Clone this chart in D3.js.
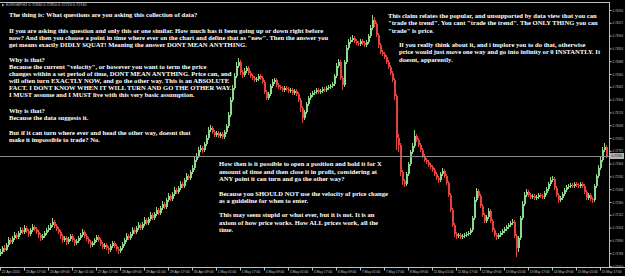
<!DOCTYPE html>
<html><head><meta charset="utf-8">
<script src="https://cdn.jsdelivr.net/npm/d3@7/dist/d3.min.js"></script>
<style>html,body{margin:0;padding:0;background:#000;overflow:hidden}</style>
</head><body>
<svg id="c" width="625" height="276"></svg>
<script>
const symbol = "EURGBP,H1";
const firstOpen = .7176;
const closes = [
.7178,.7182,.7180,.7185,.7190,.7188,.7192,.7195,.7193,.7197,
.7200,.7198,.7202,.7199,.7196,.7200,.7203,.7201,.7198,.7195,
.7192,.7194,.7197,.7200,.7202,.7205,.7208,.7204,.7201,.7198,
.7194,.7190,.7192,.7188,.7191,.7194,.7190,.7187,.7189,.7192,
.7195,.7198,.7194,.7191,.7188,.7185,.7187,.7190,.7193,.7190,
.7186,.7183,.7185,.7182,.7180,.7184,.7187,.7184,.7181,.7179,
.7182,.7186,.7190,.7194,.7192,.7196,.7200,.7198,.7202,.7205,
.7202,.7206,.7210,.7207,.7211,.7215,.7212,.7216,.7220,.7217,
.7222,.7226,.7223,.7230,.7234,.7231,.7236,.7240,.7238,.7242,
.7246,.7244,.7250,.7254,.7252,.7258,.7262,.7270,.7274,.7280,
.7282,.7280,.7286,.7292,.7300,.7302,.7298,.7295,.7297,.7294,
.7296,.7293,.7298,.7304,.7315,.7330,.7342,.7354,.7364,.7368,
.7358,.7355,.7359,.7362,.7357,.7354,.7352,.7350,.7351,.7354,
.7352,.7348,.7338,.7332,.7336,.7344,.7348,.7350,.7345,.7343,
.7342,.7340,.7342,.7341,.7339,.7340,.7337,.7339,.7336,.7330,
.7322,.7312,.7318,.7326,.7332,.7335,.7337,.7338,.7340,.7338,
.7339,.7341,.7340,.7342,.7343,.7344,.7346,.7354,.7364,.7368,
.7352,.7345,.7368,.7382,.7388,.7390,.7392,.7389,.7387,.7386,
.7389,.7387,.7385,.7388,.7394,.7402,.7410,.7406,.7395,.7385,
.7378,.7376,.7373,.7368,.7363,.7357,.7350,.7334,.7292,.7285,
.7258,.7249,.7246,.7256,.7266,.7278,.7284,.7294,.7290,.7285,
.7280,.7274,.7270,.7268,.7265,.7263,.7260,.7256,.7252,.7250,
.7256,.7259,.7254,.7247,.7235,.7220,.7205,.7196,.7194,.7195,
.7193,.7194,.7195,.7196,.7197,.7200,.7212,.7230,.7239,.7234,
.7224,.7215,.7209,.7213,.7219,.7209,.7200,.7195,.7193,.7195,
.7197,.7199,.7201,.7203,.7205,.7207,.7208,.7194,.7182,.7192,
.7212,.7226,.7235,.7238,.7235,.7233,.7234,.7232,.7233,.7235,
.7234,.7233,.7237,.7241,.7246,.7250,.7251,.7242,.7235,.7230,
.7232,.7236,.7240,.7243,.7244,.7245,.7244,.7246,.7245,.7244,
.7246,.7244,.7238,.7232,.7235,.7231,.7230,.7244,.7254,.7262,
.7270,.7280,.7283,.7274];
const highs = [
.7181,.7184,.7185,.7187,.7193,.7192,.7194,.7198,.7197,.7199,
.7203,.7202,.7205,.7204,.7201,.7202,.7206,.7205,.7203,.7200,
.7197,.7196,.7199,.7202,.7205,.7207,.7212,.7210,.7206,.7203,
.7200,.7196,.7194,.7194,.7193,.7196,.7196,.7192,.7191,.7194,
.7197,.7201,.7200,.7196,.7193,.7190,.7189,.7192,.7195,.7195,
.7192,.7188,.7187,.7187,.7184,.7186,.7189,.7189,.7186,.7183,
.7184,.7188,.7192,.7197,.7196,.7198,.7203,.7202,.7204,.7208,
.7207,.7208,.7213,.7212,.7213,.7218,.7217,.7218,.7223,.7222,
.7224,.7229,.7228,.7232,.7237,.7236,.7238,.7243,.7242,.7244,
.7249,.7248,.7252,.7257,.7256,.7260,.7265,.7273,.7277,.7283,
.7285,.7284,.7288,.7295,.7303,.7305,.7304,.7300,.7299,.7299,
.7298,.7298,.7300,.7306,.7318,.7333,.7345,.7357,.7368,.7372,
.7370,.7360,.7362,.7364,.7364,.7359,.7356,.7354,.7353,.7356,
.7356,.7354,.7350,.7340,.7338,.7346,.7351,.7352,.7352,.7347,
.7345,.7344,.7344,.7344,.7343,.7342,.7342,.7341,.7341,.7338,
.7332,.7324,.7320,.7328,.7334,.7337,.7339,.7340,.7342,.7342,
.7341,.7343,.7343,.7344,.7345,.7346,.7348,.7356,.7367,.7371,
.7370,.7354,.7370,.7385,.7391,.7393,.7395,.7394,.7391,.7389,
.7391,.7391,.7389,.7390,.7396,.7405,.7415,.7413,.7408,.7397,
.7387,.7380,.7378,.7375,.7370,.7365,.7359,.7352,.7336,.7296,
.7287,.7260,.7251,.7258,.7268,.7280,.7287,.7300,.7296,.7292,
.7287,.7282,.7276,.7272,.7270,.7267,.7265,.7262,.7258,.7254,
.7258,.7262,.7261,.7256,.7249,.7237,.7222,.7207,.7198,.7197,
.7197,.7196,.7197,.7198,.7199,.7202,.7214,.7233,.7242,.7241,
.7236,.7226,.7217,.7215,.7222,.7221,.7211,.7202,.7197,.7197,
.7199,.7201,.7203,.7205,.7207,.7209,.7211,.7210,.7196,.7194,
.7214,.7229,.7238,.7241,.7240,.7237,.7236,.7236,.7235,.7237,
.7237,.7236,.7239,.7243,.7248,.7253,.7254,.7253,.7244,.7237,
.7234,.7238,.7242,.7245,.7246,.7247,.7247,.7248,.7248,.7247,
.7248,.7248,.7246,.7240,.7237,.7237,.7233,.7246,.7256,.7265,
.7273,.7283,.7287,.7285];
const lows = [
.7174,.7176,.7178,.7179,.7183,.7186,.7186,.7190,.7191,.7191,
.7195,.7196,.7196,.7197,.7193,.7194,.7198,.7199,.7196,.7192,
.7189,.7190,.7192,.7195,.7198,.7200,.7203,.7202,.7199,.7196,
.7191,.7187,.7188,.7185,.7186,.7189,.7188,.7184,.7185,.7187,
.7190,.7193,.7192,.7189,.7186,.7182,.7183,.7185,.7188,.7188,
.7184,.7181,.7181,.7180,.7176,.7178,.7182,.7182,.7179,.7176,
.7177,.7180,.7184,.7188,.7190,.7190,.7194,.7196,.7196,.7200,
.7200,.7200,.7204,.7205,.7205,.7209,.7210,.7210,.7214,.7215,
.7215,.7220,.7221,.7221,.7228,.7229,.7229,.7234,.7236,.7236,
.7240,.7242,.7242,.7248,.7250,.7250,.7256,.7260,.7268,.7272,
.7278,.7277,.7278,.7284,.7290,.7298,.7296,.7293,.7293,.7292,
.7292,.7291,.7291,.7296,.7302,.7313,.7328,.7340,.7352,.7362,
.7355,.7352,.7353,.7357,.7355,.7352,.7350,.7348,.7348,.7349,
.7350,.7346,.7336,.7330,.7330,.7334,.7342,.7346,.7343,.7341,
.7340,.7338,.7338,.7339,.7337,.7337,.7335,.7335,.7334,.7328,
.7318,.7307,.7310,.7316,.7324,.7330,.7333,.7335,.7336,.7336,
.7336,.7337,.7338,.7338,.7340,.7341,.7342,.7344,.7352,.7362,
.7350,.7340,.7343,.7366,.7380,.7386,.7388,.7387,.7385,.7384,
.7384,.7385,.7383,.7383,.7386,.7392,.7400,.7403,.7393,.7382,
.7376,.7374,.7371,.7366,.7361,.7355,.7348,.7330,.7280,.7278,
.7254,.7245,.7243,.7244,.7254,.7264,.7276,.7282,.7288,.7283,
.7278,.7272,.7268,.7266,.7263,.7261,.7258,.7254,.7250,.7247,
.7248,.7254,.7252,.7245,.7233,.7218,.7203,.7193,.7191,.7192,
.7191,.7191,.7192,.7193,.7194,.7195,.7198,.7210,.7228,.7232,
.7222,.7213,.7207,.7207,.7211,.7207,.7198,.7193,.7190,.7191,
.7193,.7195,.7197,.7199,.7201,.7203,.7205,.7192,.7173,.7178,
.7190,.7210,.7224,.7233,.7233,.7231,.7231,.7230,.7230,.7231,
.7232,.7231,.7231,.7235,.7239,.7244,.7248,.7240,.7233,.7227,
.7228,.7230,.7234,.7238,.7241,.7242,.7242,.7242,.7243,.7242,
.7242,.7242,.7236,.7230,.7230,.7229,.7227,.7228,.7242,.7252,
.7260,.7268,.7278,.7272];
const priceTicks = [.74200,.74072,.73944,.73816,.73688,.73560,.73432,.73304,.73176,.73048,
  .72920,.72792,.72664,.72536,.72408,.72280,.72152,.72024,.71896,.71768,.71640];
const dateLabels = ["22 Apr 2015","23 Apr 17:00","24 Apr 09:00","27 Apr 01:00","27 Apr 17:00","28 Apr 09:00",
  "29 Apr 01:00","29 Apr 17:00","30 Apr 09:00","1 May 01:00","1 May 17:00","4 May 09:00","5 May 01:00",
  "5 May 17:00","6 May 09:00","7 May 01:00","7 May 17:00","8 May 09:00","11 May 01:00","11 May 17:00",
  "12 May 09:00","13 May 01:00","13 May 17:00","14 May 09:00","15 May 01:00","15 May 17:00"];
const dateEvery = 12;

const noteLeft = [
"The thing is: What questions are you asking this collection of data?",
"",
"If you are asking this question and only this or one similar. How much has it been going up or down right before",
"now? And then you choose a point in time where ever on the chart and define that as \"new\". Then the answer you",
"get means exactly DIDLY SQUAT! Meaning the answer DONT MEAN ANYTHING.",
"",
"Why is that?",
"Because the current \"velocity\", or however you want to term the price",
"changes within a set period of time, DONT MEAN ANYTHING. Price can, and",
"will often turn EXACTLY NOW, and go the other way. This is an ABSOLUTE",
"FACT. I DONT KNOW WHEN IT WILL TURN AND GO THE OTHER WAY.",
"I MUST assume and I MUST live with this very basic assumption.",
"",
"Why is that?",
"Because the data suggests it.",
"",
"But if it can turn where ever and head the other way, doesnt that",
"make it impossible to trade? No."];
const noteMiddle = [
"How then is it possible to open a position and hold it for X",
"amount of time and then close it in profit, considering at",
"ANY point it can turn and go the other way?",
"",
"Because you SHOULD NOT use the velocity of price change",
"as a guideline for when to enter.",
"",
"This may seem stupid or what ever, but it is not. It is an",
"axiom of how price works. How ALL prices work, all the",
"time."];
const noteRightA = [
"This claim relates the popular, and unsupported by data view that you can",
"\"trade the trend\". You cant \"trade the trend\". The ONLY THING you can",
"\"trade\" is price."];
const noteRightB = [
"If you really think about it, and i implore you to do that, otherwise",
"price would just move one way and go into infinity or 0 INSTANTLY. It",
"doesnt, apparently."];

// ---------- drawing ----------
const svg = d3.select("#c");
const plotT = 2, plotB = 267, axisX = 609;
const n = closes.length;
const opens = closes.map((c, i) => i ? closes[i - 1] : firstOpen);
const x = d3.scaleBand().domain(d3.range(n)).range([0, n * 2]);
const y = d3.scaleLinear().domain([0.7163, 0.7428]).range([plotB, plotT]);
const bull = "#8ed88e", bear = "#e0443c", axisCol = "#c0c0c0";
const smallFont = "Liberation Sans, Arial, sans-serif";

svg.append("rect").attr("width", 625).attr("height", 276).attr("fill", "#000");

const g = svg.append("g").attr("shape-rendering", "crispEdges");
const cd = g.selectAll("g.c").data(d3.range(n)).join("g");
cd.append("line")
  .attr("x1", i => x(i) + 0.5).attr("x2", i => x(i) + 0.5)
  .attr("y1", i => y(highs[i])).attr("y2", i => y(lows[i]))
  .attr("stroke", i => closes[i] >= opens[i] ? bull : bear).attr("stroke-width", 1);
cd.append("rect")
  .attr("x", i => x(i)).attr("width", 1.6)
  .attr("y", i => y(Math.max(opens[i], closes[i])))
  .attr("height", i => Math.max(1, Math.abs(y(opens[i]) - y(closes[i]))))
  .attr("fill", i => closes[i] >= opens[i] ? bull : bear);

// current price line
const last = closes[n - 1];
const ly = Math.round(y(last)) + 0.5;
svg.append("line").attr("x1", 0).attr("x2", axisX).attr("y1", ly).attr("y2", ly)
  .attr("stroke", "#8a8a8a").attr("stroke-width", 1);

// frame
svg.append("line").attr("x1", 0).attr("x2", axisX).attr("y1", plotT + 0.5).attr("y2", plotT + 0.5).attr("stroke", axisCol);
svg.append("line").attr("x1", 0).attr("x2", 625).attr("y1", plotB + 0.5).attr("y2", plotB + 0.5).attr("stroke", axisCol);

// price axis
const ya = svg.append("g").attr("transform", `translate(${axisX + 0.5},0)`)
  .call(d3.axisRight(y).tickValues(priceTicks).tickFormat(d3.format(".5f")).tickSize(2).tickPadding(1));
ya.select(".domain").attr("stroke", axisCol).attr("d", `M0,${plotT}V${plotB}`);
ya.selectAll(".tick line").attr("stroke", axisCol);
ya.selectAll("text").attr("fill", axisCol).attr("font-family", smallFont).attr("font-size", 3.6)
  .attr("textLength", 10.5).attr("lengthAdjust", "spacingAndGlyphs");

// price label
const py = y(last);
svg.append("rect").attr("x", axisX + 1).attr("y", py - 3).attr("width", 14).attr("height", 6).attr("fill", "#b4b4b4");
svg.append("text").attr("x", axisX + 2.5).attr("y", py).attr("dy", "0.35em").attr("fill", "#000")
  .attr("font-family", smallFont).attr("font-size", 3.6).attr("textLength", 10.5).attr("lengthAdjust", "spacingAndGlyphs")
  .text(d3.format(".5f")(last));

// date axis
const dIdx = dateLabels.map((d, k) => k * dateEvery);
const xa = svg.append("g").attr("transform", `translate(0,${plotB + 0.5})`)
  .call(d3.axisBottom(x).tickValues(dIdx).tickFormat((d, k) => dateLabels[k]).tickSize(3).tickPadding(1));
xa.select(".domain").remove();
xa.selectAll(".tick").attr("transform", d => `translate(${x(d) + 0.5},0)`);
xa.selectAll(".tick line").attr("stroke", axisCol);
xa.selectAll("text").attr("fill", axisCol).attr("text-anchor", "start").attr("dx", 1.2).attr("dy", "0.3em")
  .attr("font-family", smallFont).attr("font-size", 3.8)
  .attr("textLength", (d, k) => dateLabels[k].length > 11 ? 20 : 18.5).attr("lengthAdjust", "spacingAndGlyphs");

// header
svg.append("path").attr("d", "M2,3.8 L4.6,5 L2,6.2 Z").attr("fill", axisCol);
svg.append("text").attr("x", 6).attr("y", 6.3).attr("fill", axisCol)
  .attr("font-family", smallFont).attr("font-size", 3.8)
  .text(`${symbol}  ${d3.format(".5f")(opens[n-1])} ${d3.format(".5f")(highs[n-1])} ${d3.format(".5f")(lows[n-1])} ${d3.format(".5f")(last)}`);

// notes
function note(lines, x0, y0, step, blankStep) {
  let yy = y0;
  const t = svg.append("g").attr("fill", "#fff").attr("font-family", "Liberation Serif, Times New Roman, serif")
    .attr("font-weight", "bold").attr("font-size", 6.6);
  lines.forEach(l => {
    if (l) t.append("text").attr("x", x0).attr("y", yy).attr("dy", "0.35em").text(l);
    yy += l ? step : blankStep;
  });
}
note(noteLeft, 9, 15, 7, 8.5);
note(noteMiddle, 219, 164, 7.3, 7.3);
note(noteRightA, 388, 15.5, 7.5, 7.5);
note(noteRightB, 399, 44.5, 7.5, 7.5);
</script>
</body></html>
